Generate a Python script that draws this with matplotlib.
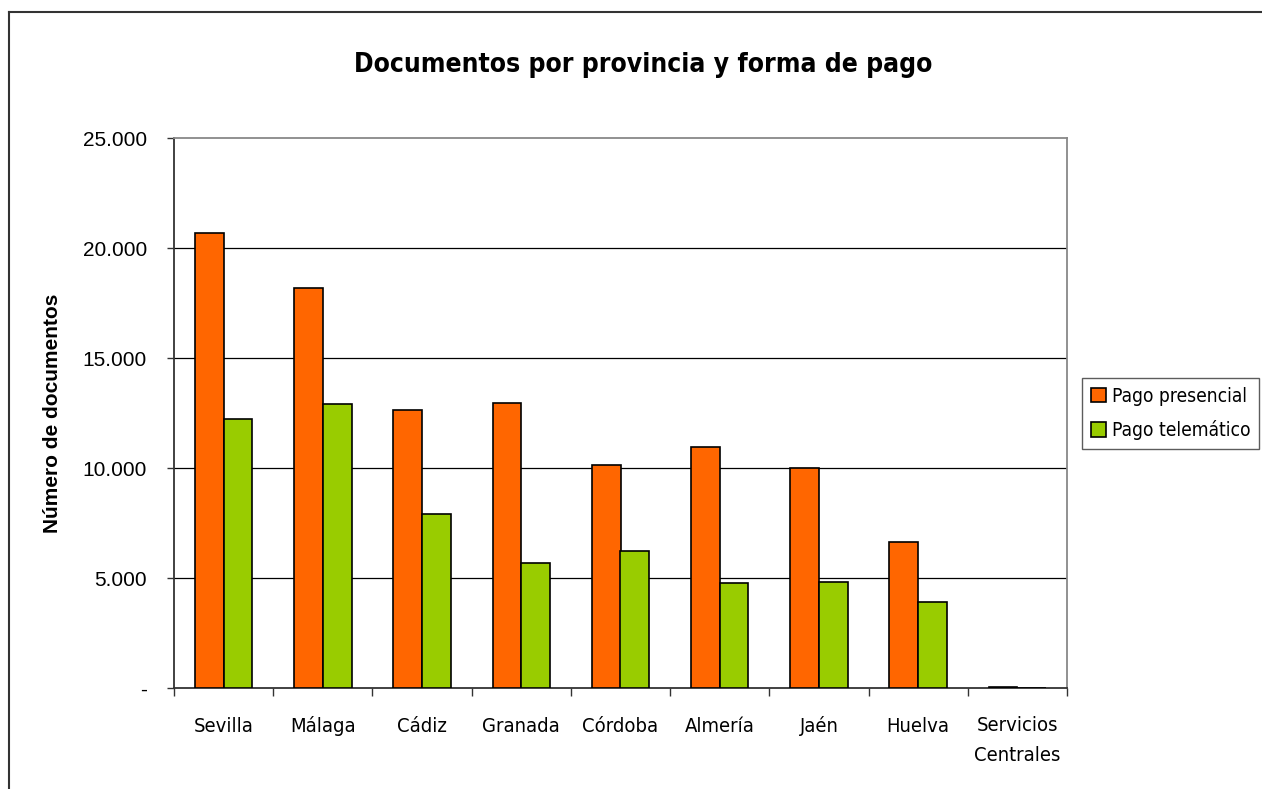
import matplotlib
matplotlib.use("Agg")
import matplotlib.pyplot as plt
from matplotlib.lines import Line2D
from matplotlib.patches import Patch
import matplotlib.transforms as mtransforms
import numpy as np

categories = ["Sevilla", "Málaga", "Cádiz", "Granada", "Córdoba", "Almería", "Jaén", "Huelva", "Servicios\nCentrales"]
presencial = [20680, 18170, 12650, 12950, 10140, 10950, 10010, 6620, 50]
telematico = [12250, 12900, 7930, 5670, 6220, 4790, 4830, 3910, 0]
series_names = ["Pago presencial", "Pago telemático"]
yticks = [0, 5000, 10000, 15000, 20000, 25000]
ytick_labels = ["-", "5.000", "10.000", "15.000", "20.000", "25.000"]

COND = "DejaVu Sans"
ARIAL = "Liberation Sans"
ORANGE = "#FF6600"
GREEN = "#99CC00"

W, H = 1262, 789
fig = plt.figure(figsize=(W / 100, H / 100), dpi=100)

# outer chart border (top and left visible)
fig.add_artist(Line2D([8.5 / W, 8.5 / W], [0, 1 - 11.5 / H], color="#333333", lw=1.5, transform=fig.transFigure))
fig.add_artist(Line2D([8.5 / W, 1], [1 - 11.5 / H, 1 - 11.5 / H], color="#333333", lw=1.5, transform=fig.transFigure))

left, right, top, bottom = 174, 1067, 138, 688
ax = fig.add_axes([left / W, 1 - bottom / H, (right - left) / W, (bottom - top) / H])

n = len(categories)
x = np.arange(n)
bw = 0.29
ax.bar(x - bw / 2, presencial, width=bw, color=ORANGE, edgecolor="black", linewidth=1.2, zorder=3)
ax.bar(x + bw / 2, telematico, width=bw, color=GREEN, edgecolor="black", linewidth=1.2, zorder=3)

ax.set_xlim(-0.5, n - 0.5)
ax.set_ylim(0, 25000)

# y axis
ax.set_yticks(yticks)
ax.set_yticklabels(ytick_labels, fontfamily=ARIAL, fontsize=15)
ax.tick_params(axis="y", direction="out", length=5, width=1, color="#333333", pad=14.5)
for yv in yticks[1:-1]:
    ax.axhline(yv, color="black", lw=0.9, zorder=1)

# x axis: ticks at category boundaries, labels at centres
ax.set_xticks(np.arange(n + 1) - 0.5)
ax.set_xticklabels([""] * (n + 1))
ax.tick_params(axis="x", which="major", direction="out", length=6, width=1, color="#333333")
trans = mtransforms.blended_transform_factory(ax.transData, fig.transFigure)
line_px = 29
for xi, lab in zip(x, categories):
    extra = lab.count("\n") * line_px
    ax.text(xi, 1 - (732 + extra) / H, lab, transform=trans, ha="center", va="baseline",
            fontfamily=COND, fontstretch="condensed", fontsize=14.5, linespacing=1.75, multialignment="center")

for s in ["left", "bottom"]:
    ax.spines[s].set_color("#333333")
    ax.spines[s].set_linewidth(1.3)
for s in ["top", "right"]:
    ax.spines[s].set_color("#888888")
    ax.spines[s].set_linewidth(1.3)

fig.text(53 / W, 1 - 413 / H, "Número de documentos", rotation=90, ha="center", va="center",
         family=ARIAL, size=15, weight="bold")

fig.text(643 / W, 1 - 65 / H, "Documentos por provincia y forma de pago", ha="center", va="center",
         fontfamily=COND, fontstretch="condensed", fontsize=19, fontweight="bold")

handles = [Patch(facecolor=ORANGE, edgecolor="black", linewidth=1.2),
           Patch(facecolor=GREEN, edgecolor="black", linewidth=1.2)]
leg = fig.legend(handles, series_names, loc="upper left", bbox_to_anchor=(1082 / W, 1 - 378 / H),
                 prop={"family": COND, "stretch": "condensed", "size": 13.8}, frameon=True, fancybox=False,
                 edgecolor="#333333", handlelength=0.8, handleheight=0.8, handletextpad=0.3,
                 borderpad=0.45, labelspacing=0.75, borderaxespad=0)
leg.get_frame().set_linewidth(1.0)

fig.savefig("out.png", dpi=100, facecolor="white")
